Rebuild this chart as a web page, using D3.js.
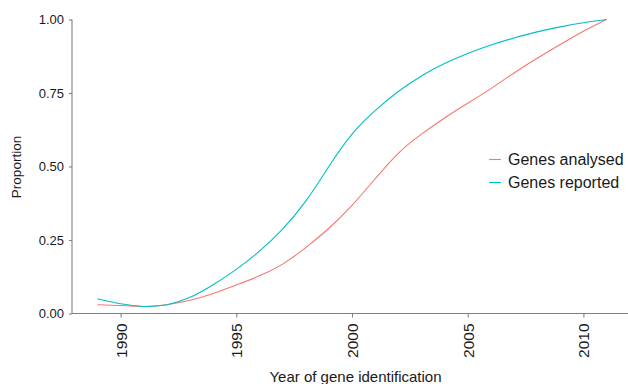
<!DOCTYPE html>
<html>
<head>
<meta charset="utf-8">
<script src="https://cdn.jsdelivr.net/npm/d3@7"></script>
<style>
  body { margin: 0; background: #fff; }
  text { font-family: "Liberation Sans", Arial, sans-serif; }
</style>
</head>
<body>
<div id="vis"></div>
<script>
// data
var years = [1989, 1990, 1991, 1992, 1993, 1994, 1995, 1996, 1997, 1998, 1999, 2000,
             2001, 2002, 2003, 2004, 2005, 2006, 2007, 2008, 2009, 2010, 2011];
var analysed = [0.030, 0.027, 0.024, 0.030, 0.045, 0.068, 0.097, 0.128, 0.168, 0.224, 0.290, 0.368,
                0.458, 0.545, 0.610, 0.665, 0.715, 0.765, 0.818, 0.868, 0.915, 0.960, 1.000];
var reported = [0.050, 0.033, 0.024, 0.030, 0.055, 0.098, 0.150, 0.212, 0.287, 0.382, 0.500, 0.610,
                0.690, 0.755, 0.808, 0.850, 0.884, 0.913, 0.937, 0.958, 0.975, 0.989, 1.000];
var seriesNames = ['Genes analysed', 'Genes reported'];
var seriesColors = ['#F8766D', '#00BFC4'];
var xTicks = [1990, 1995, 2000, 2005, 2010];
var yTicks = [0, 0.25, 0.5, 0.75, 1];

var width = 628, height = 384;
var margin = { top: 19.5, left: 72, bottom: 70.5, right: -4 };

var svg = d3.select('#vis').append('svg')
  .attr('width', width)
  .attr('height', height);

// x has ggplot's 5% padding, y sits flush on 0..1
var x = d3.scaleLinear()
  .domain([1989 - 1.1, 2011 + 1.1])
  .range([margin.left, width - margin.right]);
var y = d3.scaleLinear()
  .domain([0, 1])
  .range([height - margin.bottom, margin.top]);

var axisColor = '#808080';
var textColor = '#1a1a1a';

// y axis
var yAxis = svg.append('g')
  .attr('transform', 'translate(' + margin.left + ',0)')
  .call(d3.axisLeft(y).tickValues(yTicks).tickFormat(d3.format('.2f')).tickSize(3).tickPadding(5));
yAxis.select('.domain').attr('d', 'M0,' + y(1) + 'V' + y(0));
yAxis.selectAll('.tick text').style('font-size', '13px');

// x axis
var xAxis = svg.append('g')
  .attr('transform', 'translate(0,' + y(0) + ')')
  .call(d3.axisBottom(x).tickValues(xTicks).tickFormat(d3.format('d')).tickSize(4));
xAxis.select('.domain').attr('d', 'M' + margin.left + ',0H' + width);
xAxis.selectAll('.tick text')
  .attr('transform', 'rotate(-90)')
  .attr('x', -10)
  .attr('y', 0)
  .attr('dy', '0.36em')
  .style('text-anchor', 'end')
  .style('font-size', '15.5px');

svg.selectAll('.domain, .tick line')
  .attr('stroke', axisColor)
  .attr('stroke-width', 1.1);
svg.selectAll('.tick text')
  .attr('fill', textColor)
  .style('font-family', '"Liberation Sans", Arial, sans-serif');

// axis titles
svg.append('text')
  .attr('x', 355.5)
  .attr('y', 382)
  .attr('text-anchor', 'middle')
  .attr('fill', textColor)
  .style('font-size', '15px')
  .text('Year of gene identification');

svg.append('text')
  .attr('transform', 'translate(21,' + (y(0.5) + 0.5) + ') rotate(-90)')
  .attr('text-anchor', 'middle')
  .attr('fill', textColor)
  .style('font-size', '13.5px')
  .text('Proportion');

// lines
var line = d3.line()
  .x(function (d) { return x(d[0]); })
  .y(function (d) { return y(d[1]); })
  .curve(d3.curveNatural);

[analysed, reported].forEach(function (vals, i) {
  svg.append('path')
    .datum(years.map(function (yr, j) { return [yr, vals[j]]; }))
    .attr('fill', 'none')
    .attr('stroke', seriesColors[i])
    .attr('stroke-width', 1.1)
    .attr('d', line);
});

// legend
var legend = svg.append('g').attr('transform', 'translate(489,159.5)');
seriesNames.forEach(function (name, i) {
  var row = legend.append('g').attr('transform', 'translate(0,' + (i * 23) + ')');
  row.append('line')
    .attr('x1', 0).attr('x2', 12)
    .attr('stroke', seriesColors[i])
    .attr('stroke-width', 1.1);
  row.append('text')
    .attr('x', 19)
    .attr('y', 5.7)
    .attr('fill', textColor)
    .style('font-size', '16px')
    .text(name);
});
</script>
</body>
</html>
